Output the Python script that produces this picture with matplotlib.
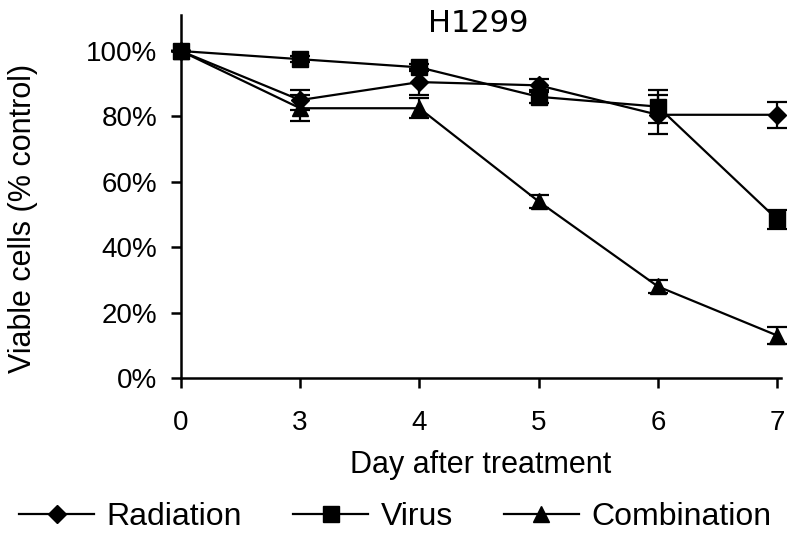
import matplotlib.pyplot as plt
from matplotlib.lines import Line2D
import numpy as np

days = ["0", "3", "4", "5", "6", "7"]

radiation = [100, 85, 90.5, 89.5, 80.5, 80.5]
radiation_err = [0, 3, 4, 2, 6, 4]
virus = [100, 97.5, 95, 86, 83, 48.5]
virus_err = [0, 1, 1, 2, 5, 3]
combination = [100, 82.5, 82.5, 54, 28, 13]
combination_err = [0, 4, 3, 2, 2, 2.5]

plt.rcParams["font.family"] = ["Liberation Sans", "DejaVu Sans"]

fig = plt.figure(figsize=(8, 5.37), dpi=100)
ax = fig.add_axes([0.226, 0.296, 0.75, 0.676])

x = np.arange(len(days))
series = [
    ("Radiation", radiation, radiation_err, "D", 9),
    ("Virus", virus, virus_err, "s", 11),
    ("Combination", combination, combination_err, "^", 12),
]
handles = []
for name, vals, errs, mk, ms in series:
    ax.errorbar(x, vals, yerr=errs, color="black", marker=mk, markersize=ms,
                linewidth=1.6, elinewidth=1.6, capsize=7, capthick=1.6,
                clip_on=False, zorder=3)
    handles.append(Line2D([], [], color="black", marker=mk, markersize=ms,
                          linewidth=1.6, label=name))

ax.set_xlim(0, 5.03)
ax.set_ylim(0, 111)
ax.set_yticks([0, 20, 40, 60, 80, 100])
ax.set_yticklabels([f"{v}%" for v in [0, 20, 40, 60, 80, 100]])
ax.set_xticks(x)
ax.set_xticklabels(days)
ax.spines[["top", "right"]].set_visible(False)
for s in ["left", "bottom"]:
    ax.spines[s].set_linewidth(1.8)
ax.tick_params(axis="both", direction="out", length=7, width=1.8, labelsize=20)
ax.tick_params(axis="x", pad=16)
ax.tick_params(axis="y", pad=10)

ax.set_xlabel("Day after treatment", fontsize=22, labelpad=10)
ax.set_ylabel("Viable cells (% control)", fontsize=22)
ax.yaxis.set_label_coords(-0.238, 0.44)
fig.text(0.598, 0.957, "H1299", ha="center", va="center",
         fontsize=22, family="DejaVu Sans")

fig.legend(handles=handles, loc="center", bbox_to_anchor=(0.494, 0.037),
           ncol=3, frameon=False, fontsize=23, handlelength=2.35,
           columnspacing=1.6, handletextpad=0.38)

fig.savefig("out.png", dpi=100)
